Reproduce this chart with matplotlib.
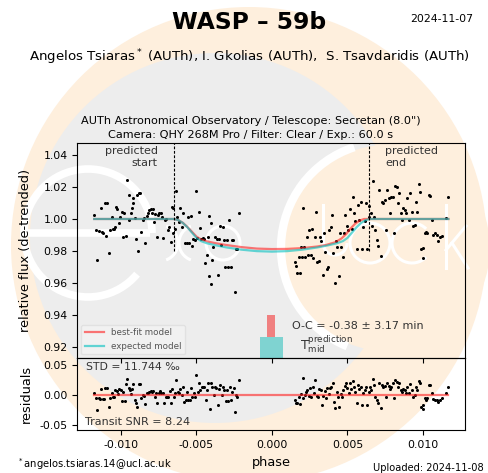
import numpy as np
import matplotlib
matplotlib.use('Agg')
import matplotlib.pyplot as plt
from matplotlib.patches import Circle, Arc

# ---------------- data ----------------
phase_pre = [-0.01177, -0.01166, -0.01157, -0.01148, -0.01135, -0.01128, -0.01117, -0.01108, -0.01099, -0.01091,
             -0.01082, -0.01073, -0.01062, -0.01055, -0.01046, -0.01040, -0.01033, -0.01024, -0.01015, -0.01007,
             -0.00996, -0.00989, -0.00980, -0.00967, -0.00958, -0.00949, -0.00945, -0.00936, -0.00927, -0.00923,
             -0.00918, -0.00909, -0.00903, -0.00896, -0.00890, -0.00883, -0.00874, -0.00865, -0.00857, -0.00848,
             -0.00839, -0.00830, -0.00821, -0.00812, -0.00804, -0.00797, -0.00790, -0.00781, -0.00773, -0.00764,
             -0.00753, -0.00746, -0.00737, -0.00728, -0.00720, -0.00711, -0.00702, -0.00691, -0.00680, -0.00671,
             -0.00664, -0.00658, -0.00653, -0.00645, -0.00636, -0.00627, -0.00618, -0.00609, -0.00598, -0.00587,
             -0.00576, -0.00565, -0.00554, -0.00547, -0.00539, -0.00530, -0.00521, -0.00512, -0.00503, -0.00494,
             -0.00486, -0.00477, -0.00468, -0.00459, -0.00450, -0.00442, -0.00433, -0.00426, -0.00419, -0.00415,
             -0.00406, -0.00402, -0.00397, -0.00389, -0.00377, -0.00366, -0.00358, -0.00353, -0.00344, -0.00336,
             -0.00327, -0.00318, -0.00309, -0.00300, -0.00291, -0.00283, -0.00274, -0.00265, -0.00256, -0.00247,
             -0.00238, -0.00230, -0.00216]
flux_pre = [1.0025, 0.9931, 0.9742, 0.9927, 1.0067, 0.9917, 0.9910, 1.0102, 0.9894, 1.0098,
            0.9790, 0.9931, 1.0015, 0.9935, 0.9940, 0.9948, 1.0073, 1.0060, 0.9977, 1.0015,
            1.0042, 0.9885, 1.0040, 0.9894, 1.0244, 1.0150, 0.9994, 1.0040, 1.0067, 1.0098,
            1.0129, 1.0004, 0.9873, 1.0150, 0.9802, 1.0165, 1.0160, 0.9921, 0.9994, 1.0004,
            0.9848, 1.0019, 1.0035, 1.0056, 1.0060, 1.0035, 1.0060, 0.9983, 1.0031, 0.9885,
            1.0025, 1.0040, 1.0035, 1.0015, 0.9879, 0.9994, 0.9998, 0.9931, 0.9952, 0.9858,
            1.0073, 0.9910, 1.0067, 0.9938, 1.0177, 1.0015, 0.9983, 1.0067, 0.9952, 1.0035,
            0.9848, 0.9852, 1.0015, 0.9848, 1.0019, 0.9831, 0.9873, 0.9869, 1.0177, 0.9879,
            1.0044, 0.9942, 0.9875, 0.9879, 0.9877, 0.9723, 0.9775, 0.9885, 0.9644, 1.0019,
            0.9977, 0.9594, 0.9744, 0.9827, 0.9885, 0.9877, 0.9648, 0.9875, 0.9956, 0.9840,
            0.9952, 0.9869, 0.9698, 0.9869, 0.9698, 0.9994, 0.9698, 0.9869, 0.9869, 0.9544,
            0.9815, 0.9810, 1.0035]

phase_post = [0.00152, 0.00159, 0.00168, 0.00177, 0.00185, 0.00192, 0.00199, 0.00208, 0.00212, 0.00221,
              0.00230, 0.00238, 0.00247, 0.00256, 0.00265, 0.00274, 0.00283, 0.00291, 0.00300, 0.00309,
              0.00318, 0.00327, 0.00336, 0.00344, 0.00353, 0.00362, 0.00371, 0.00380, 0.00389, 0.00397,
              0.00406, 0.00415, 0.00424, 0.00433, 0.00442, 0.00450, 0.00459, 0.00468, 0.00477, 0.00486,
              0.00494, 0.00506, 0.00517, 0.00528, 0.00534, 0.00543, 0.00552, 0.00561, 0.00570, 0.00578,
              0.00587, 0.00596, 0.00605, 0.00614, 0.00623, 0.00631, 0.00640, 0.00645, 0.00653, 0.00662,
              0.00667, 0.00675, 0.00684, 0.00693, 0.00702, 0.00711, 0.00720, 0.00728, 0.00737, 0.00746,
              0.00755, 0.00764, 0.00773, 0.00781, 0.00790, 0.00799, 0.00808, 0.00817, 0.00826, 0.00834,
              0.00843, 0.00852, 0.00861, 0.00870, 0.00879, 0.00887, 0.00896, 0.00905, 0.00914, 0.00927,
              0.00936, 0.00945, 0.00954, 0.00962, 0.00971, 0.00980, 0.00989, 0.00998, 0.01002, 0.01011,
              0.01020, 0.01029, 0.01038, 0.01046, 0.01057, 0.01068, 0.01079, 0.01091, 0.01102, 0.01113,
              0.01124, 0.01152, 0.01168]
flux_post = [0.9733, 0.9708, 0.9660, 0.9765, 0.9660, 0.9827, 0.9765, 1.0067, 0.9823, 0.9765,
             0.9885, 0.9775, 0.9931, 0.9775, 0.9935, 0.9754, 0.9890, 1.0046, 0.9729, 0.9740,
             0.9890, 0.9865, 0.9650, 0.9910, 0.9796, 0.9685, 0.9702, 0.9931, 0.9952, 1.0025,
             0.9785, 0.9598, 0.9865, 0.9827, 0.9644, 0.9910, 0.9827, 0.9765, 0.9910, 1.0025,
             0.9956, 0.9931, 1.0060, 0.9935, 1.0140, 1.0035, 0.9990, 0.9810, 1.0088, 0.9994,
             1.0108, 0.9810, 0.9952, 0.9990, 1.0098, 0.9810, 1.0015, 1.0081, 1.0035, 0.9956,
             1.0240, 1.0015, 0.9931, 0.9869, 0.9831, 1.0181, 0.9769, 1.0108, 1.0102, 1.0119,
             0.9931, 1.0181, 1.0129, 1.0035, 1.0135, 1.0140, 0.9910, 1.0206, 1.0198, 1.0098,
             1.0160, 1.0035, 0.9994, 1.0067, 1.0056, 1.0035, 1.0129, 0.9994, 1.0165, 1.0046,
             0.9956, 0.9960, 1.0108, 1.0046, 1.0219, 1.0171, 0.9810, 0.9754, 0.9817, 0.9910,
             0.9921, 0.9915, 1.0150, 1.0144, 0.9994, 0.9900, 0.9910, 0.9900, 0.9865, 0.9885,
             0.9894, 1.0004, 1.0140]

res_phase_pre = [-0.01177, -0.01168, -0.01157, -0.01148, -0.01139, -0.01130, -0.01121, -0.01113, -0.01104, -0.01095,
                 -0.01082, -0.01073, -0.01062, -0.01055, -0.01046, -0.01038, -0.01029, -0.01020, -0.01011, -0.01002,
                 -0.00993, -0.00985, -0.00976, -0.00967, -0.00958, -0.00949, -0.00940, -0.00932, -0.00925, -0.00918,
                 -0.00909, -0.00901, -0.00892, -0.00883, -0.00874, -0.00865, -0.00857, -0.00848, -0.00839, -0.00830,
                 -0.00821, -0.00812, -0.00804, -0.00795, -0.00786, -0.00777, -0.00768, -0.00759, -0.00751, -0.00742,
                 -0.00733, -0.00724, -0.00715, -0.00704, -0.00698, -0.00687, -0.00678, -0.00669, -0.00660, -0.00651,
                 -0.00642, -0.00634, -0.00625, -0.00616, -0.00607, -0.00598, -0.00589, -0.00581, -0.00572, -0.00563,
                 -0.00554, -0.00545, -0.00536, -0.00528, -0.00519, -0.00510, -0.00501, -0.00492, -0.00483, -0.00475,
                 -0.00466, -0.00457, -0.00448, -0.00439, -0.00430, -0.00422, -0.00413, -0.00404, -0.00395, -0.00386,
                 -0.00377, -0.00369, -0.00360, -0.00351, -0.00342, -0.00333, -0.00325, -0.00316, -0.00307, -0.00298,
                 -0.00289, -0.00280, -0.00272, -0.00263, -0.00254, -0.00245, -0.00236, -0.00230, -0.00216]
res_pre = [0.0038, -0.0055, -0.0247, -0.0055, -0.0071, 0.0093, -0.0060, -0.0071, 0.0110, 0.0110,
           -0.0203, -0.0055, 0.0027, -0.0038, -0.0027, 0.0082, 0.0066, 0.0016, 0.0093, 0.0082,
           -0.0093, 0.0055, -0.0099, 0.0181, 0.0258, 0.0110, 0.0082, 0.0011, 0.0093, 0.0181,
           -0.0082, -0.0126, -0.0192, 0.0176, 0.0176, -0.0055, 0.0000, -0.0011, -0.0148, 0.0027,
           0.0038, 0.0055, 0.0066, 0.0055, 0.0066, -0.0027, 0.0027, -0.0126, 0.0038, 0.0071,
           0.0027, 0.0038, -0.0137, -0.0027, -0.0038, -0.0027, 0.0071, -0.0137, 0.0093, -0.0027,
           0.0027, 0.0247, 0.0049, 0.0027, 0.0093, 0.0000, 0.0126, -0.0110, -0.0082, 0.0055,
           -0.0082, -0.0082, 0.0115, -0.0038, 0.0027, -0.0027, 0.0330, 0.0055, 0.0203, 0.0082,
           0.0137, 0.0126, 0.0137, -0.0082, 0.0082, 0.0192, -0.0236, 0.0192, 0.0137, 0.0000,
           0.0137, 0.0110, -0.0165, 0.0093, 0.0165, 0.0000, 0.0126, 0.0082, -0.0099, 0.0082,
           -0.0093, 0.0137, -0.0082, 0.0055, 0.0110, -0.0275, 0.0000, -0.0027, 0.0247]

res_phase_post = [0.00152, 0.00159, 0.00168, 0.00177, 0.00185, 0.00194, 0.00203, 0.00208, 0.00216, 0.00225,
                  0.00234, 0.00243, 0.00252, 0.00260, 0.00269, 0.00278, 0.00287, 0.00296, 0.00305, 0.00313,
                  0.00322, 0.00331, 0.00340, 0.00349, 0.00358, 0.00366, 0.00375, 0.00384, 0.00393, 0.00402,
                  0.00411, 0.00419, 0.00428, 0.00437, 0.00446, 0.00455, 0.00464, 0.00472, 0.00481, 0.00490,
                  0.00499, 0.00508, 0.00517, 0.00525, 0.00534, 0.00543, 0.00552, 0.00561, 0.00570, 0.00578,
                  0.00587, 0.00596, 0.00605, 0.00614, 0.00623, 0.00631, 0.00640, 0.00649, 0.00658, 0.00667,
                  0.00675, 0.00684, 0.00693, 0.00702, 0.00711, 0.00720, 0.00728, 0.00737, 0.00746, 0.00755,
                  0.00764, 0.00773, 0.00781, 0.00790, 0.00799, 0.00808, 0.00817, 0.00826, 0.00834, 0.00843,
                  0.00852, 0.00861, 0.00870, 0.00879, 0.00887, 0.00896, 0.00905, 0.00914, 0.00927, 0.00936,
                  0.00945, 0.00954, 0.00962, 0.00971, 0.00980, 0.00989, 0.00998, 0.01002, 0.01011, 0.01020,
                  0.01029, 0.01038, 0.01046, 0.01057, 0.01068, 0.01079, 0.01091, 0.01102, 0.01113, 0.01124,
                  0.01152, 0.01168]
res_post = [-0.0082, -0.0126, -0.0137, -0.0027, -0.0148, 0.0016, -0.0055, 0.0275, 0.0000, 0.0055,
            0.0082, -0.0016, 0.0110, -0.0027, 0.0137, 0.0027, 0.0247, -0.0016, -0.0027, 0.0093,
            0.0082, -0.0165, -0.0016, 0.0071, -0.0055, 0.0110, 0.0016, 0.0110, 0.0137, 0.0192,
            -0.0110, -0.0220, 0.0055, -0.0027, -0.0203, 0.0016, -0.0027, 0.0082, 0.0148, 0.0192,
            0.0110, 0.0038, 0.0203, 0.0093, 0.0236, 0.0126, 0.0055, -0.0137, 0.0165, 0.0093,
            0.0137, -0.0165, 0.0038, 0.0082, 0.0137, -0.0165, 0.0055, 0.0137, 0.0082, 0.0258,
            0.0165, -0.0027, -0.0082, -0.0137, 0.0192, -0.0220, 0.0165, 0.0137, 0.0148, -0.0027,
            0.0192, 0.0148, 0.0093, 0.0137, 0.0192, -0.0055, 0.0247, 0.0220, 0.0137, 0.0192,
            0.0082, 0.0055, 0.0093, 0.0082, 0.0027, 0.0137, 0.0027, 0.0181, 0.0082, -0.0027,
            0.0000, 0.0137, 0.0082, 0.0236, 0.0203, -0.0192, -0.0236, -0.0165, -0.0055, -0.0082,
            -0.0055, 0.0165, 0.0159, 0.0027, -0.0071, -0.0082, -0.0082, -0.0110, -0.0082, -0.0055,
            0.0027, 0.0137]

# model curves
model_phase = [-0.01177, -0.0065, -0.0062, -0.0059, -0.0056, -0.0053, -0.0050, -0.0047, -0.0043, -0.0037,
               -0.0030, -0.0020, -0.0010, 0.0, 0.0010, 0.0020, 0.0030, 0.0037, 0.0043, 0.0047,
               0.0050, 0.0053, 0.0056, 0.0059, 0.0062, 0.0065, 0.01168]
expected_flux = [1.0, 1.0, 0.9993, 0.9975, 0.9948, 0.9915, 0.9882, 0.9862, 0.9848, 0.9835,
                 0.9822, 0.9808, 0.9799, 0.9796, 0.9799, 0.9808, 0.9822, 0.9835, 0.9848, 0.9862,
                 0.9882, 0.9915, 0.9948, 0.9975, 0.9993, 1.0, 1.0]
bestfit_phase = [-0.01177, -0.0065, -0.0062, -0.0059, -0.0056, -0.0053, -0.0050, -0.0047, -0.0043, -0.0037,
                 -0.0030, -0.0020, -0.0010, 0.0, 0.0010, 0.0020, 0.0030, 0.0036, 0.0042, 0.0046,
                 0.0049, 0.0052, 0.0055, 0.0058, 0.0061, 0.01168]
bestfit_flux = [1.0, 1.0, 0.9993, 0.9976, 0.9950, 0.9920, 0.9890, 0.9872, 0.9860, 0.9848,
                0.9837, 0.9824, 0.9815, 0.9812, 0.9813, 0.9818, 0.9828, 0.9838, 0.9855, 0.9878,
                0.9905, 0.9940, 0.9970, 0.9990, 1.0, 1.0]
resid_line_phase = [-0.01177, 0.01168]
resid_line_val = [0.0, 0.0]

predicted_start = -0.00649
predicted_end = 0.00645
dash_bottom = 0.9802

# O-C bars (phase centre, width, bottom, top)
oc_bar = dict(center=-0.00007, width=0.00057, bottom=0.926, top=0.940)
pred_bar = dict(center=-0.00003, width=0.00152, bottom=0.900, top=0.926)

xticks = [-0.010, -0.005, 0.000, 0.005, 0.010]
yticks_main = [0.92, 0.94, 0.96, 0.98, 1.00, 1.02, 1.04]
yticks_res = [-0.05, 0.00, 0.05]

# ---------------- figure ----------------
W, H = 489, 473
fig = plt.figure(figsize=(W / 100, H / 100), dpi=100)
fig.patch.set_facecolor('white')

PEACH = '#feefdd'
GREY = '#ededed'

bg = fig.add_axes([0, 0, 1, 1], zorder=-10)
bg.set_xlim(0, W)
bg.set_ylim(H, 0)
bg.axis('off')
bg.add_patch(Circle((249, 245), 238, color=PEACH, lw=0))
bg.add_patch(Circle((215, 238), 185, color=GREY, lw=0))
bg.add_patch(Circle((387, 248), 103, color=PEACH, lw=0))
# white logo strokes
bg.add_patch(Arc((387, 248), 212, 212, theta1=112, theta2=252, color='white', lw=6))
bg.add_patch(Arc((88, 233), 128, 128, theta1=40, theta2=360, color='white', lw=5.5))
bg.plot([22, 150], [233, 233], color='white', lw=5.5, solid_capstyle='butt')
bg.add_patch(Arc((160, 243), 36, 36, theta1=-70, theta2=70, color='white', lw=2.2))
bg.add_patch(Arc((197, 243), 36, 36, theta1=110, theta2=250, color='white', lw=2.2))
bg.add_patch(Circle((223, 243), 17, fill=False, ec='white', lw=2.2))
bg.add_patch(Arc((335, 243), 24, 24, theta1=0, theta2=180, color='white', lw=2.2))
bg.plot([323, 323], [205, 243], color='white', lw=2.2)
bg.add_patch(Circle((370, 243), 20, fill=False, ec='white', lw=2.2))
bg.add_patch(Arc((412, 243), 40, 40, theta1=45, theta2=315, color='white', lw=2.2))
bg.plot([446, 446], [205, 268], color='white', lw=2.2)
bg.plot([446, 466], [250, 226], color='white', lw=2.2)
bg.plot([452, 468], [243, 268], color='white', lw=2.2)

TXT = '#333333'

# ---- main panel ----
ax = fig.add_axes([77.3 / W, 1 - 358.3 / H, 388 / W, 215.6 / H])
ax.patch.set_alpha(0)
ax.plot(phase_pre, flux_pre, 'o', color='k', ms=2.2, mew=0)
ax.plot(phase_post, flux_post, 'o', color='k', ms=2.2, mew=0)
ax.plot(bestfit_phase, bestfit_flux, '-', color='#ff2020', lw=1.6, alpha=0.6, label='best-fit model')
ax.plot(model_phase, expected_flux, '-', color='#00c0c0', lw=1.6, alpha=0.6, label='expected model')
for t in (predicted_start, predicted_end):
    ax.plot([t, t], [dash_bottom, 1.06], color='k', lw=0.8, dashes=(2.5, 1.5))
ax.bar(pred_bar['center'], pred_bar['top'] - pred_bar['bottom'], width=pred_bar['width'],
       bottom=pred_bar['bottom'], color='#7fd3d1', lw=0)
ax.bar(oc_bar['center'], oc_bar['top'] - oc_bar['bottom'], width=oc_bar['width'],
       bottom=oc_bar['bottom'], color='#f08080', lw=0)
ax.set_xlim(-0.01289, 0.0128)
ax.set_ylim(0.9129, 1.0477)
ax.set_xticks(xticks)
ax.set_xticklabels([])
ax.set_yticks(yticks_main)
ax.set_yticklabels([f'{v:.2f}' for v in yticks_main])
ax.tick_params(labelsize=7.8, length=3.5, width=0.8)
ax.set_ylabel('relative flux (de-trended)', fontsize=9.3)
ax.yaxis.set_label_coords(-0.118, 0.5)
ax.text(-0.00757, 1.0455, 'predicted\nstart', ha='right', va='top', fontsize=8, color=TXT,
        multialignment='right')
ax.text(0.00748, 1.0455, 'predicted\nend', ha='left', va='top', fontsize=8, color=TXT,
        multialignment='left')
ax.text(0.0013, 0.9313, 'O-C = -0.38 \u00b1 3.17 min', fontsize=8, color=TXT, va='baseline')
ax.text(0.00185, 0.9185, r'$\mathregular{T_{mid}^{prediction}}$', fontsize=9, color=TXT, va='baseline')
leg = ax.legend(loc='lower left', fontsize=6.3, framealpha=0.25, edgecolor='#bbbbbb',
                handlelength=2.2, borderaxespad=0.45)
for t in leg.get_texts():
    t.set_color('#555555')

# ---- residual panel ----
ax2 = fig.add_axes([77.3 / W, 1 - 430 / H, 388 / W, 71.7 / H])
ax2.patch.set_alpha(0)
ax2.plot(res_phase_pre, res_pre, 'o', color='k', ms=2.2, mew=0)
ax2.plot(res_phase_post, res_post, 'o', color='k', ms=2.2, mew=0)
ax2.plot(resid_line_phase, resid_line_val, '-', color='#ff2020', lw=1.6, alpha=0.6)
ax2.set_xlim(-0.01289, 0.0128)
ax2.set_ylim(-0.0577, 0.0604)
ax2.set_xticks(xticks)
ax2.set_xticklabels([f'{v:.3f}' for v in xticks])
ax2.set_yticks(yticks_res)
ax2.set_yticklabels([f'{v:.2f}' for v in yticks_res])
ax2.tick_params(labelsize=7.8, length=3.5, width=0.8)
ax2.set_ylabel('residuals', fontsize=9.3)
ax2.yaxis.set_label_coords(-0.114, 0.5)
ax2.set_xlabel('phase', fontsize=9.3)
ax2.xaxis.set_label_coords(0.5, -0.36)
ax2.text(-0.01232, 0.0412, 'STD = 11.744 \u2030', fontsize=7.8, color=TXT, va='baseline')
ax2.text(-0.01238, -0.0500, 'Transit SNR = 8.24', fontsize=8, color=TXT, va='baseline')

# ---- figure texts ----
fig.text(248.7 / W, 1 - 29.3 / H, 'WASP \u2013 59b', ha='center', va='baseline',
         fontsize=16.8, fontweight='bold')
fig.text(473.3 / W, 1 - 22 / H, '2024-11-07', ha='right', va='baseline', fontsize=7.8)
fig.text(249.5 / W, 1 - 61 / H,
         r'Angelos Tsiaras$^*$ (AUTh), I. Gkolias (AUTh),  S. Tsavdaridis (AUTh)',
         ha='center', va='baseline', fontsize=9.6)
fig.text(250.5 / W, 1 - 123.7 / H, 'AUTh Astronomical Observatory / Telescope: Secretan (8.0")',
         ha='center', va='baseline', fontsize=8.1)
fig.text(250.5 / W, 1 - 138 / H, 'Camera: QHY 268M Pro / Filter: Clear / Exp.: 60.0 s',
         ha='center', va='baseline', fontsize=8.1)
fig.text(16.7 / W, 1 - 467.7 / H, r'$^*$angelos.tsiaras.14@ucl.ac.uk', ha='left', va='baseline',
         fontsize=7.2)
fig.text(483.3 / W, 1 - 470.7 / H, 'Uploaded: 2024-11-08', ha='right', va='baseline', fontsize=7.1)

fig.savefig('out.png', dpi=100)
